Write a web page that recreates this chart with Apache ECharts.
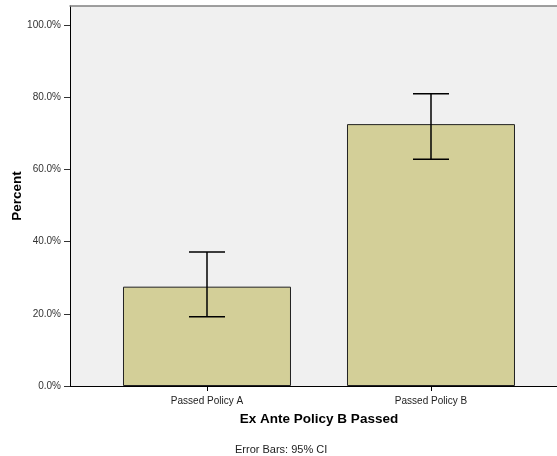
<!DOCTYPE html>
<html><head><meta charset="utf-8">
<script src="https://cdn.jsdelivr.net/npm/echarts@6/dist/echarts.min.js"></script>
<style>html,body{margin:0;padding:0;background:#fff}#c{width:557px;height:456px}</style>
</head><body><div id="c"></div>
<script>
var categories = ['Passed Policy A', 'Passed Policy B'];
var percentValues = [27.5, 72.5];
var ciLower = [19.2, 62.8];
var ciUpper = [37.1, 80.9];
var yTicks = [0, 20, 40, 60, 80, 100];

var F = '"Liberation Sans", Arial, sans-serif';
var chart = echarts.init(document.getElementById('c'));
var barData = categories.map(function (c, i) { return [i, percentValues[i]]; });
var errData = categories.map(function (c, i) { return [i, ciLower[i], ciUpper[i]]; });

chart.setOption({
  animation: false,
  backgroundColor: '#ffffff',
  grid: { left: 70, right: 0, top: 6, bottom: 70, show: true, backgroundColor: '#f0f0f0', borderWidth: 0,
    containLabel: false, outerBoundsMode: 'none' },
  xAxis: [{
    type: 'value', min: -0.6116, max: 1.5625,
    splitLine: { show: false },
    axisLine: { show: true, onZero: false, lineStyle: { color: '#000', width: 1 } },
    axisTick: { show: true, length: 5, lineStyle: { color: '#000' }, customValues: [0, 1] },
    axisLabel: { customValues: [0, 1], margin: 10, fontSize: 10, color: '#222', fontFamily: F,
      formatter: function (v) { return categories[Math.round(v)] || ''; } },
    name: 'Ex Ante Policy B Passed', nameLocation: 'middle', nameGap: 26,
    nameTextStyle: { fontSize: 13.5, fontWeight: 'bold', color: '#000', fontFamily: F, padding: [0, 0, 0, 11] }
  }, {
    type: 'value', position: 'top', min: -0.6116, max: 1.5625,
    splitLine: { show: false },
    axisLine: { show: true, onZero: false, lineStyle: { color: '#808080', width: 1.5 } },
    axisTick: { show: false }, axisLabel: { show: false }
  }],
  yAxis: {
    type: 'value', min: 0, max: 105.2,
    splitLine: { show: false },
    axisLine: { show: true, onZero: false, lineStyle: { color: '#000', width: 1 } },
    axisTick: { show: true, length: 6, lineStyle: { color: '#333' }, customValues: yTicks },
    axisLabel: { customValues: yTicks, margin: 9, fontSize: 10, color: '#333', fontFamily: F,
      formatter: function (v) { return v.toFixed(1) + '%'; } }
  },
  series: [{
    type: 'bar', data: barData, barWidth: 168, xAxisIndex: 0,
    itemStyle: { color: '#d3cf98', borderColor: '#222', borderWidth: 1 }
  }, {
    type: 'custom', xAxisIndex: 0, data: errData, z: 10,
    renderItem: function (params, api) {
      var x = api.value(0);
      var lo = api.coord([x, api.value(1)]);
      var hi = api.coord([x, api.value(2)]);
      var hw = 18;
      var st = { stroke: '#000', lineWidth: 1.5 };
      return { type: 'group', children: [
        { type: 'line', shape: { x1: lo[0], y1: lo[1], x2: hi[0], y2: hi[1] }, style: st },
        { type: 'line', shape: { x1: lo[0] - hw, y1: lo[1], x2: lo[0] + hw, y2: lo[1] }, style: st },
        { type: 'line', shape: { x1: hi[0] - hw, y1: hi[1], x2: hi[0] + hw, y2: hi[1] }, style: st }
      ] };
    }
  }],
  graphic: [{
    type: 'text', left: 235, top: 444,
    style: { text: 'Error Bars: 95% CI', fontSize: 11, fill: '#222', fontFamily: F }
  }, {
    type: 'text', x: 17, y: 196, rotation: Math.PI / 2,
    style: { text: 'Percent', fontSize: 13.5, fontWeight: 'bold', fill: '#000', fontFamily: F,
      align: 'center', verticalAlign: 'middle' }
  }]
});
</script></body></html>
